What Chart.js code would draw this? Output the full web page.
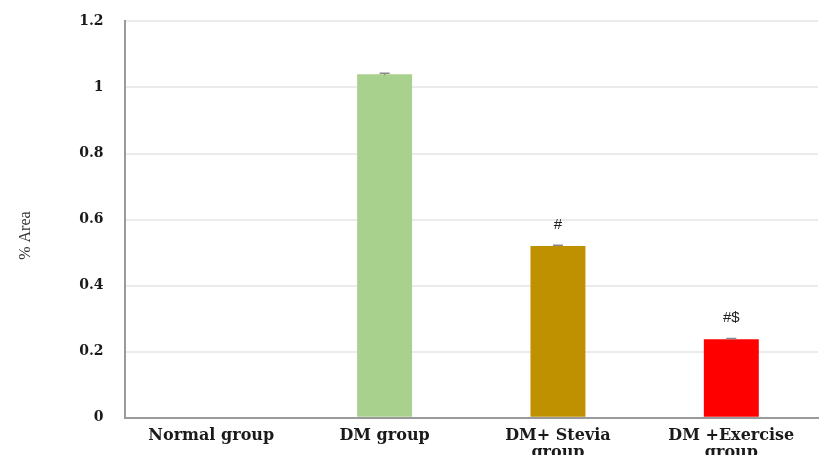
<!DOCTYPE html>
<html>
<head>
<meta charset="utf-8">
<script src="https://cdn.jsdelivr.net/npm/chart.js@4.4.1/dist/chart.umd.min.js"></script>
<style>
  html, body { margin: 0; padding: 0; background: #fff; }
  #wrap { width: 824px; height: 455px; overflow: hidden; position: relative; }
  #box { width: 824px; height: 481px; margin-top: -8px; }
</style>
</head>
<body>
<div id="wrap"><div id="box"><canvas id="areaChart"></canvas></div></div>
<script>
// groups on the x axis (two-line labels)
const groups = [
    "Normal group",
    "DM group",
    ["DM+ Stevia", "group"],
    ["DM +Exercise", "group"]
];
const areaValues = [0, 1.04, 0.52, 0.238];
const areaErrors = [0, 0.003, 0.002, 0.002];
const barColors = ["#A9D18E", "#A9D18E", "#BF9000", "#FF0000"];
const signMarks = ["", "", "#", "#$"];
const yTicks = [0, 0.2, 0.4, 0.6, 0.8, 1, 1.2];

// tiny error caps and significance marks above the bars
const marksPlugin = {
    id: "marks",
    afterDatasetsDraw(chart) {
        const ctx = chart.ctx;
        const meta = chart.getDatasetMeta(0);
        const yScale = chart.scales.y;
        ctx.save();
        meta.data.forEach((bar, i) => {
            if (areaValues[i] > 0) {
                const yTop = yScale.getPixelForValue(areaValues[i] + areaErrors[i]);
                const yBot = yScale.getPixelForValue(areaValues[i] - areaErrors[i]);
                ctx.strokeStyle = "#8a8a8a";
                ctx.lineWidth = 1.5;
                ctx.beginPath();
                ctx.moveTo(bar.x - 5, yTop);
                ctx.lineTo(bar.x + 5, yTop);
                ctx.moveTo(bar.x, yTop);
                ctx.lineTo(bar.x, yBot);
                ctx.stroke();
            }
            if (signMarks[i]) {
                ctx.fillStyle = "#222";
                ctx.font = "15px 'Liberation Sans', Arial, sans-serif";
                ctx.textAlign = "center";
                ctx.textBaseline = "middle";
                ctx.fillText(signMarks[i], bar.x, yScale.getPixelForValue(areaValues[i]) - 21);
            }
        });
        ctx.restore();
    }
};

new Chart(document.getElementById("areaChart"), {
    type: "bar",
    data: {
        labels: groups,
        datasets: [{
            data: areaValues,
            backgroundColor: barColors,
            borderWidth: 0,
            barPercentage: 0.317,
            categoryPercentage: 1
        }]
    },
    options: {
        responsive: true,
        maintainAspectRatio: false,
        animation: false,
        layout: { padding: { top: 4, right: 6, bottom: 2, left: 0 } },
        plugins: {
            legend: { display: false },
            tooltip: { enabled: false }
        },
        scales: {
            x: {
                grid: { display: false, drawTicks: false },
                border: { display: true, color: "#9a9a9a", width: 2 },
                ticks: {
                    color: "#1a1a1a",
                    padding: 9,
                    maxRotation: 0,
                    autoSkip: false,
                    font: { family: "'DejaVu Serif', serif", size: 16, weight: "bold", lineHeight: 1.1 }
                }
            },
            y: {
                min: 0,
                max: 1.2,
                afterBuildTicks: axis => { axis.ticks = yTicks.map(v => ({ value: v })); },
                grid: { color: "#ebebeb", lineWidth: 2, drawTicks: false },
                border: { display: true, color: "#9a9a9a", width: 2 },
                ticks: {
                    color: "#1a1a1a",
                    padding: 21,
                    callback: v => String(v),
                    font: { family: "'DejaVu Serif', serif", size: 14, weight: "bold" }
                },
                title: {
                    display: true,
                    text: "% Area\u00a0\u00a0\u00a0\u00a0\u00a0\u00a0\u00a0\u00a0",
                    color: "#333",
                    padding: { top: 16, bottom: 23 },
                    font: { family: "'Liberation Serif', 'Times New Roman', serif", size: 16 }
                }
            }
        }
    },
    plugins: [marksPlugin]
});
</script>
</body>
</html>
